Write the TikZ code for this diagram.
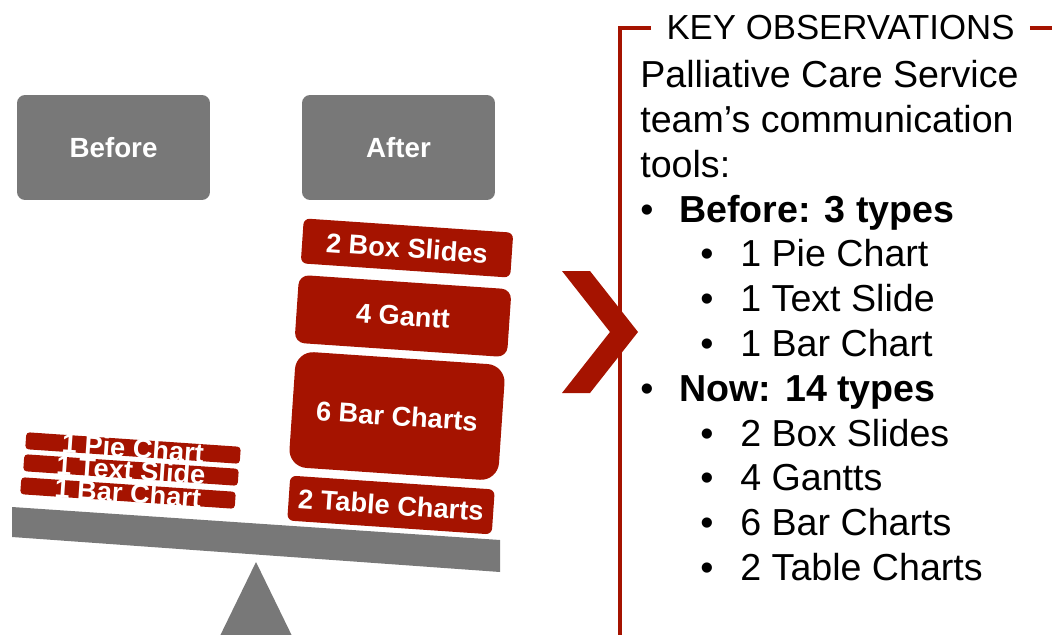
\documentclass[tikz,border=0pt]{standalone}
\usepackage{fontspec}
\setmainfont{Liberation Sans}
\usetikzlibrary{positioning}
\definecolor{scalegray}{HTML}{787878}
\definecolor{slabred}{HTML}{A51300}
\newcommand{\slabtext}[1]{\raisebox{-0.36em}[0pt][0pt]{#1}}
\newcommand{\bul}{\makebox[0.78cm][l]{•}}
\newcommand{\subbul}{\hspace*{1.2cm}\makebox[0.8cm][l]{•}}

\begin{document}
\begin{tikzpicture}[
        x = 0.02cm, y = -0.02cm,
        header/.style = {fill=scalegray, rounded corners=0.16cm, minimum width=3.86cm, minimum height=2.1cm, text=white, font=\fontsize{15.8}{18}\selectfont\bfseries},
        slab/.style = {fill=slabred, text=white, inner sep=0pt, rotate=-3.9, font=\fontsize{15.5}{18}\selectfont\bfseries},
        brick/.style = {slab, rounded corners=2pt, minimum width=4.3cm, minimum height=0.34cm},
        rule/.style = {draw=slabred, line width=2.3pt},
        obs/.style = {align=left, inner sep=0pt, font=\fontsize{21.4}{25.5}\selectfont}
    ]
        \useasboundingbox (0,0) rectangle (1052,635);

        % Headers
        \node (before) [header] at (113.5,147.5) {Before};
        \node (after)  [header] at (398.5,147.5) {After};

        % Scale
        \fill [scalegray] (12,507) -- (500,540) -- (500,572) -- (12,537) -- cycle;
        \fill [scalegray] (218,640) -- (256,562) -- (294,640) -- cycle;

        % Before stack
        \node (pie)       [brick] at (133,448) {\slabtext{1 Pie Chart}};
        \node (textslide) [brick] at (131,470) {\slabtext{1 Text Slide}};
        \node (barchart)  [brick] at (128,493) {\slabtext{1 Bar Chart}};

        % After stack
        \node (boxslides)   [slab, rounded corners=0.12cm, minimum width=4.2cm, minimum height=0.9cm]  at (407,248) {2 Box Slides};
        \node (gantt)       [slab, rounded corners=0.2cm, minimum width=4.26cm, minimum height=1.36cm] at (403,316) {4 Gantt};
        \node (barcharts)   [slab, rounded corners=0.36cm, minimum width=4.2cm, minimum height=2.32cm] at (397,416) {6 Bar Charts};
        \node (tablecharts) [slab, rounded corners=0.12cm, minimum width=4.1cm, minimum height=0.9cm]  at (391,505) {2 Table Charts};

        % Chevron
        \fill [slabred] (562,271) -- (590,271) -- (638,332) -- (590,393) -- (562,393) -- (610,332) -- cycle;

        % Observations
        \node (title) [anchor=base, inner xsep=0.3cm, font=\fontsize{19.8}{22}\selectfont] at (840.5,40) {KEY OBSERVATIONS};
        \coordinate (corner) at (620,28);
        \draw [rule] (title.west |- corner) -- (corner) -- (620,640);
        \draw [rule] (title.east |- corner) -- (1056,28);

        \node (obs) [obs, anchor=north west] at (640,60) {Palliative Care Service\\
            team’s communication\\
            tools:\\
            \bul\textbf{Before: 3 types}\\
            \subbul 1 Pie Chart\\
            \subbul 1 Text Slide\\
            \subbul 1 Bar Chart\\
            \bul\textbf{Now: 14 types}\\
            \subbul 2 Box Slides\\
            \subbul 4 Gantts\\
            \subbul 6 Bar Charts\\
            \subbul 2 Table Charts};

\end{tikzpicture}
\end{document}
